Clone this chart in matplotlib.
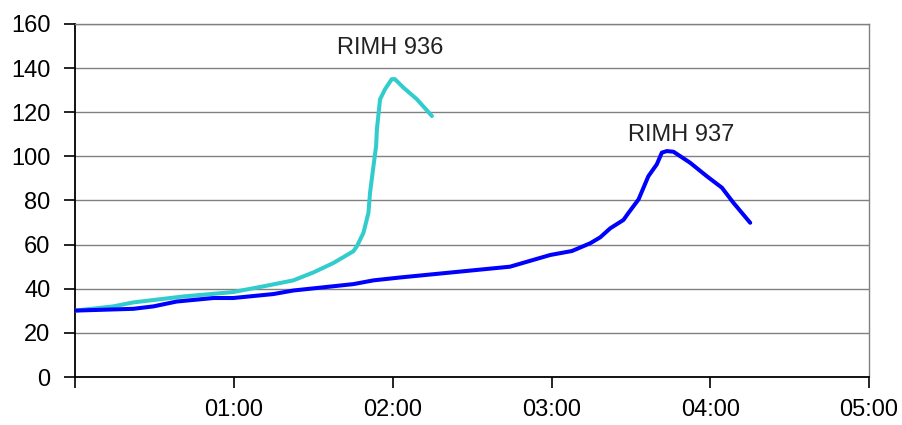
import matplotlib
matplotlib.use("Agg")
import matplotlib.pyplot as plt

# time in minutes
t936 = [0, 14.3, 21.9, 40.8, 59.7, 72.4, 82.4, 90, 97.6, 105.1, 106.4, 108.9,
        110.8, 111.4, 112.7, 113.7, 114, 115.2, 117.1, 119.6, 120.8, 124, 129.1, 134.8]
v936 = [30.1, 32, 33.8, 36.5, 38.5, 41.4, 43.8, 47.4, 51.7, 57, 59.2, 65.3,
        74.4, 83.5, 95.6, 104.7, 112.3, 125.9, 130.5, 135, 135, 131.2, 125.9, 118.3]

t937 = [0, 21.9, 29.5, 38.3, 52.2, 59.7, 74.9, 82.4, 105.1, 112.7, 122.7, 164.3,
        179.5, 187.7, 194.6, 198.4, 202.2, 207.2, 209.1, 212.9, 216.6, 219.8, 221.7,
        223.6, 226.1, 232.4, 238.7, 244.4, 248.8, 255.1]
v937 = [30.1, 30.9, 32, 34.2, 35.8, 35.8, 37.6, 39.2, 42.1, 43.8, 45.1, 50,
        55.3, 57.1, 60.6, 63.3, 67.4, 71.2, 74.4, 80.5, 91, 96.4, 101.7,
        102.4, 102.1, 97.1, 91, 85.8, 78.9, 69.9]

xticks = [0, 60, 120, 180, 240, 300]
xlabels = ["", "01:00", "02:00", "03:00", "04:00", "05:00"]
yticks = [0, 20, 40, 60, 80, 100, 120, 140, 160]

plt.rcParams['font.family'] = ['Liberation Sans', 'DejaVu Sans']
fs = 17

fig = plt.figure(figsize=(9.02, 4.25), dpi=100)
ax = fig.add_axes([75.3/902, (425-377)/425, (869-75.3)/902, (377-24)/425])

for y in yticks[1:]:
    ax.axhline(y, color='#808080', lw=1.0, zorder=1)

ax.plot(t936, v936, color='#33CCCC', lw=2.9, zorder=3, solid_joinstyle='round', solid_capstyle='round')
ax.plot(t937, v937, color='#0000FF', lw=2.9, zorder=4, solid_joinstyle='round', solid_capstyle='round')

ax.text(119, 149.1, "RIMH 936", ha='center', va='center', fontsize=fs, color='#222222')
ax.text(228.9, 109.7, "RIMH 937", ha='center', va='center', fontsize=fs, color='#222222')

ax.set_xlim(0, 300)
ax.set_ylim(0, 160)
ax.set_xticks(xticks)
ax.set_xticklabels(xlabels)
ax.set_yticks(yticks)
ax.tick_params(axis='both', direction='out', length=8, width=1.2, labelsize=fs, colors='black')
ax.tick_params(axis='x', pad=8)
ax.tick_params(axis='y', pad=10)

ax.spines['left'].set_color('black')
ax.spines['left'].set_linewidth(1.3)
ax.spines['bottom'].set_color('black')
ax.spines['bottom'].set_linewidth(1.3)
ax.spines['right'].set_color('#808080')
ax.spines['right'].set_linewidth(1.0)
ax.spines['top'].set_color('#808080')
ax.spines['top'].set_linewidth(1.0)

fig.savefig("out.png", dpi=100)
